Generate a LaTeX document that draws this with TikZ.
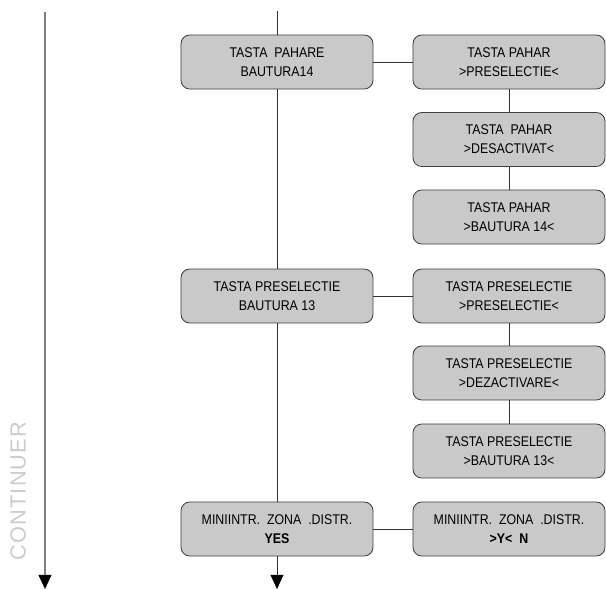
\documentclass[tikz,border=0pt]{standalone}
\usepackage{fontspec}
\setmainfont{Liberation Sans}[FakeStretch=0.88]
\newfontfamily\contfont{Liberation Sans}[LetterSpace=5]
\usetikzlibrary{arrows.meta}

\tikzset{menu/.style={draw=black!75, fill=black!21, rounded corners=0.22cm, line width=0.6pt,
    minimum width=4.8cm, minimum height=1.35cm, inner sep=0pt, align=center,
    font=\fontsize{10}{13.5}\selectfont},
  link/.style={draw=black!80, line width=0.7pt},
  tip/.style={-{Triangle[length=0.35cm,width=0.32cm,color=black]}}}

\begin{document}
\begin{tikzpicture}[x=0.025cm,y=-0.025cm]
\useasboundingbox (0,0) rectangle (606,589);
\coordinate (top) at (277,11);
\coordinate (bottom) at (277,589);
\coordinate (ltop) at (45,12);
\coordinate (lbottom) at (45,589);
% coloana din stanga
\node[menu] (pahare) at (277,62) {TASTA\ \ PAHARE\\BAUTURA14};
\node[menu] (presel) at (277,296) {TASTA PRESELECTIE\\BAUTURA 13};
\node[menu] (mini) at (277,529) {MINIINTR.\ \ ZONA\ \ .DISTR.\\\textbf{YES}};
% coloana din dreapta
\node[menu] (pahar1) at (509,62) {TASTA PAHAR\\>PRESELECTIE<};
\node[menu] (pahar2) at (509,139.5) {TASTA\ \ PAHAR\\>DESACTIVAT<};
\node[menu] (pahar3) at (509,217) {TASTA PAHAR\\>BAUTURA 14<};
\node[menu] (presel1) at (509,296) {TASTA PRESELECTIE\\>PRESELECTIE<};
\node[menu] (presel2) at (509,373) {TASTA PRESELECTIE\\>DEZACTIVARE<};
\node[menu] (presel3) at (509,451) {TASTA PRESELECTIE\\>BAUTURA 13<};
\node[menu] (mini1) at (509,529) {MINIINTR.\ \ ZONA\ \ .DISTR.\\\textbf{>Y<\ \ N}};
\node[rotate=90, text=black!20, font=\contfont\fontsize{15.5}{18}\selectfont] (cont) at (18,491) {CONTINUER};
% legaturi
\draw[link] (top) -- (pahare.north);
\draw[link] (pahare.south) -- (presel.north);
\draw[link] (presel.south) -- (mini.north);
\draw[link,tip] (mini.south) -- (bottom);
\draw[link] (pahare) -- (pahar1);
\draw[link] (pahar1) -- (pahar2);
\draw[link] (pahar2) -- (pahar3);
\draw[link] (presel) -- (presel1);
\draw[link] (presel1) -- (presel2);
\draw[link] (presel2) -- (presel3);
\draw[link] (mini) -- (mini1);
\draw[draw=black!50, line width=1pt, tip] (ltop) -- (lbottom);
\end{tikzpicture}
\end{document}
